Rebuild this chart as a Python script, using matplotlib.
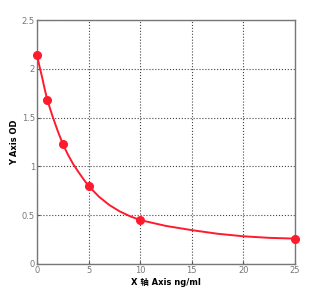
import matplotlib
matplotlib.use('Agg')
import matplotlib.pyplot as plt

# standards (concentration ng/ml, OD)
conc = [0, 1, 2.5, 5, 10, 25]
od = [2.14, 1.68, 1.23, 0.80, 0.45, 0.26]

# fitted curve
curve_x = [0, 0.25, 0.5, 0.75, 1, 1.5, 2, 2.5, 3, 3.5, 4, 4.5, 5, 6, 7, 8, 9,
           10, 12.5, 15, 17.5, 20, 22.5, 25]
curve_y = [2.14, 2.02, 1.91, 1.79, 1.68, 1.515, 1.365, 1.23, 1.12, 1.025,
           0.945, 0.87, 0.80, 0.69, 0.605, 0.54, 0.49, 0.45, 0.39, 0.347,
           0.31, 0.284, 0.268, 0.26]

xticks = [0, 5, 10, 15, 20, 25]
yticks = [0, 0.5, 1, 1.5, 2, 2.5]
ytick_labels = ['0', '0.5', '1', '1.5', '2', '2.5']

plt.rcParams['font.family'] = ['DejaVu Sans', 'Noto Sans CJK SC']

fig = plt.figure(figsize=(3.23, 2.92), dpi=100)
ax = fig.add_axes([0.1146, 0.0959, 0.7984, 0.8356])

ax.plot(curve_x, curve_y, color='#ff1a2e', lw=1.4, zorder=3)
ax.plot(conc, od, 'o', color='#ff1a2e', ms=5.5, zorder=4, clip_on=False)

ax.set_xlim(0, 25)
ax.set_ylim(0, 2.5)
ax.set_xticks(xticks)
ax.set_yticks(yticks)
ax.set_yticklabels(ytick_labels)
ax.grid(True, ls=':', color='#444444', lw=0.8)
ax.tick_params(direction='in', length=2, labelsize=6, colors='#555555',
               labelcolor='#777777', pad=1.5)
for s in ax.spines.values():
    s.set_color('#777777')
    s.set_linewidth(1.0)

ax.set_xlabel('X 轴 Axis ng/ml', fontsize=6, fontweight='bold',
              family=['DejaVu Sans', 'Noto Sans CJK SC'], labelpad=2)
ax.set_ylabel('Y Axis OD', fontsize=6, fontweight='bold', labelpad=2)

fig.savefig('out.png', dpi=100)
